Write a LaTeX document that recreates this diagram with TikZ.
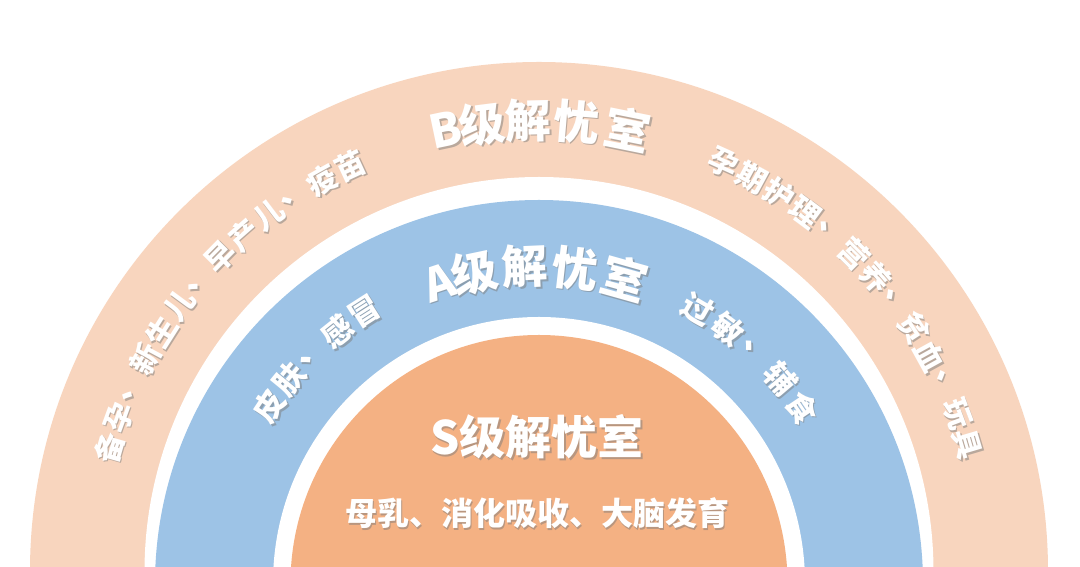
\documentclass[tikz,border=0pt]{standalone}
\usepackage{fontspec}
\newfontfamily\cjk{Noto Sans CJK SC}
\definecolor{peach}{HTML}{F8D5BE}
\definecolor{sky}{HTML}{9DC3E6}
\definecolor{apricot}{HTML}{F4B183}
\definecolor{shpeach}{HTML}{B9A89C}
\definecolor{shsky}{HTML}{8C9FB0}
\definecolor{shapricot}{HTML}{B8967F}
\tikzset{
  lbl/.style={text=white, inner sep=0pt},
}
% shadowed text: #1 x-offset, #2 y-offset, #3 shadow colour, #4 text
\newcommand{\shadowed}[4]{\makebox[0pt][l]{\hspace*{#1pt}\raisebox{#2pt}{\color{#3}#4}}#4}
% #1 cx, #2 cy, #3 radius, #4 angle, #5 size, #6 glyph, #7 name, #8 shadow colour
\newcommand{\arcglyph}[8]{%
  \pgfmathsetmacro\shx{1.6*cos(#4-90)-1.6*sin(#4-90)}%
  \pgfmathsetmacro\shy{-1.6*sin(#4-90)-1.6*cos(#4-90)}%
  \path (#1,#2) ++(#4:#3) node[lbl, rotate=#4-90, font=\cjk\bfseries\fontsize{#5}{#5}\selectfont] (#7) {\shadowed{\shx}{\shy}{#8}{#6}};
}
\begin{document}
\begin{tikzpicture}[x=1pt,y=1pt]
\useasboundingbox (0,0) rectangle (1080,567);
\clip (0,0) rectangle (1080,567);
\fill[white] (0,0) rectangle (1080,567);
% rings
\fill[peach] (539,-4) circle (509);
\fill[white] (539,-4.5) circle (394.5);
\fill[sky] (539,-17) circle (384);
\fill[white] (539,-16) circle (266);
\fill[apricot] (539,-16.5) circle (248.5);
% B title
\foreach \c/\a [count=\i] in {B/101.9,级/97.2,解/91.4,忧/85.2,室/78.6}
  {\arcglyph{539}{-4}{450}{\a}{46}{\c}{bt\i}{shpeach}}
% B left
\foreach \c [count=\i] in {备,孕,、,新,生,儿,、,早,产,儿,、,疫,苗}
  {\pgfmathsetmacro\a{164-(\i-1)*4.09}\arcglyph{539}{-4}{446}{\a}{30}{\c}{bl\i}{shpeach}}
% B right
\foreach \c [count=\i] in {孕,期,护,理,、,营,养,、,贫,血,、,玩,具}
  {\pgfmathsetmacro\a{65.7-(\i-1)*4.1}\arcglyph{539}{-4}{447}{\a}{30}{\c}{br\i}{shpeach}}
% A title
\foreach \c/\a [count=\i] in {A/108.3,级/101.8,解/92.5,忧/83.5,室/74.3}
  {\arcglyph{539}{-17}{317}{\a}{46}{\c}{at\i}{shsky}}
% A left
\foreach \c [count=\i] in {皮,肤,、,感,冒}
  {\pgfmathsetmacro\a{146.6-(\i-1)*6.0}\arcglyph{539}{-17}{322}{\a}{31}{\c}{al\i}{shsky}}
% A right
\foreach \c [count=\i] in {过,敏,、,辅,食}
  {\pgfmathsetmacro\a{59.9-(\i-1)*6.5}\arcglyph{539}{-17}{317}{\a}{31}{\c}{ar\i}{shsky}}
% S
\node[lbl, font=\cjk\bfseries\fontsize{46}{46}\selectfont] (stitle) at (537,129) {\shadowed{1.6}{-1.6}{shapricot}{S级解忧室}};
\node[lbl, font=\cjk\bfseries\fontsize{32}{32}\selectfont] (stext) at (537,53) {\shadowed{1.6}{-1.6}{shapricot}{母乳、消化吸收、大脑发育}};
\end{tikzpicture}
\end{document}
